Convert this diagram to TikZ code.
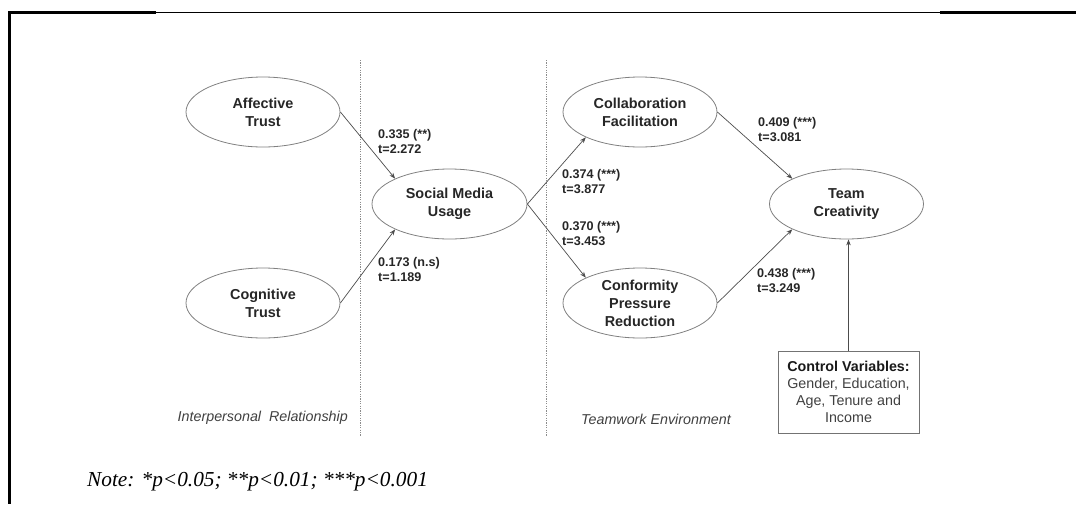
\documentclass[tikz,border=0pt]{standalone}
\usepackage{fontspec}
\setmainfont{Liberation Serif}
\setsansfont{Liberation Sans}
\usetikzlibrary{arrows.meta, shapes.geometric}

\begin{document}
\begin{tikzpicture}[x=1pt, y=-1pt, >={Stealth[length=6pt, width=4.5pt]},
    latent/.style={ellipse, draw=black!50, line width=0.8pt, minimum width=154pt, minimum height=70pt,
        inner sep=0pt, align=center, text=black!85, font=\sffamily\bfseries\fontsize{14.4}{18}\selectfont},
    coef/.style={anchor=west, align=left, inner sep=0pt, text=black!85,
        font=\sffamily\bfseries\fontsize{12.6}{15}\selectfont},
    effect/.style={->, draw=black!70, line width=0.7pt},
    zone/.style={inner sep=0pt, text=black!75, font=\sffamily\itshape\fontsize{14.3}{17}\selectfont},
    divider/.style={draw=black!45, line width=0.8pt, dash pattern=on 1.2pt off 1.2pt}]
    \useasboundingbox (0,0) rectangle (1076,504);

    % 外框
    \draw[line width=1pt] (9,12.5) -- (1076,12.5);
    \draw[line width=2.6pt] (8,12.5) -- (156,12.5);
    \draw[line width=2.6pt] (940,12.5) -- (1076,12.5);
    \draw[line width=2.8pt] (9.5,11.2) -- (9.5,504);

    % 分区虚线
    \draw[divider] (360.5,60) -- (360.5,436);
    \draw[divider] (546.5,60) -- (546.5,436);

    % 潜变量
    \node[latent] (aff) at (263,112) {Affective\\Trust};
    \node[latent] (cog) at (263,303) {Cognitive\\Trust};
    \node[latent, minimum width=155pt] (smu) at (449.5,204) {Social Media\\Usage};
    \node[latent] (collab) at (640,112) {Collaboration\\Facilitation};
    \node[latent] (conf) at (640,303) {Conformity\\Pressure\\Reduction};
    \node[latent] (tc) at (846.5,204) {Team\\Creativity};

    % 控制变量
    \node[draw=black!55, line width=0.8pt, minimum width=141pt, minimum height=82pt, align=center,
        text=black!75, font=\sffamily\fontsize{14.3}{17.2}\selectfont] (ctrl) at (848.5,392)
        {\textcolor{black!90}{\bfseries Control Variables:}\\Gender, Education,\\Age, Tenure and\\Income};

    % 路径
    \draw[effect] (aff.east) -- (smu.155);
    \draw[effect] (cog.east) -- (smu.205);
    \draw[effect] (smu.east) -- (collab.205);
    \draw[effect] (smu.east) -- (conf.155);
    \draw[effect] (collab.east) -- (tc.155);
    \draw[effect] (conf.east) -- (tc.205);
    \draw[effect] (ctrl.north) -- (ctrl.north |- tc.south);

    % 系数
    \node[coef] (c1) at (378,141.5) {0.335 (**)\\t=2.272};
    \node[coef] (c2) at (378,269.5) {0.173 (n.s)\\t=1.189};
    \node[coef] (c3) at (562,182) {0.374 (***)\\t=3.877};
    \node[coef] (c4) at (562,233.5) {0.370 (***)\\t=3.453};
    \node[coef] (c5) at (758,129.5) {0.409 (***)\\t=3.081};
    \node[coef] (c6) at (757,280.5) {0.438 (***)\\t=3.249};

    % 分区标题
    \node[zone, anchor=east] (ir) at (348,418) {Interpersonal\ \ Relationship};
    \node[zone, anchor=west] (te) at (581,419) {Teamwork Environment};

    % 注释
    \node[anchor=west, inner sep=0pt, font=\itshape\fontsize{21.3}{24}\selectfont] (note) at (87,482)
        {Note: *p<0.05; **p<0.01; ***p<0.001};
\end{tikzpicture}
\end{document}
